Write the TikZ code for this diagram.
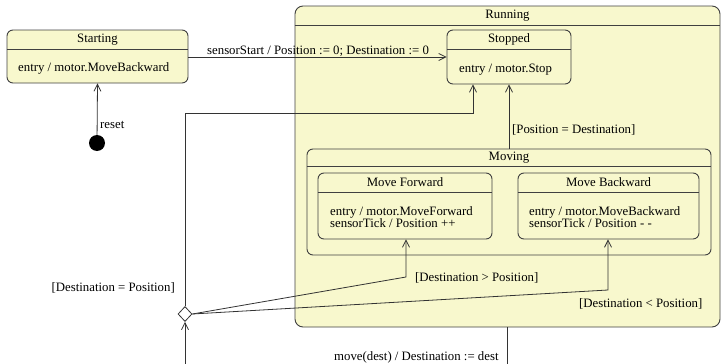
\documentclass[tikz,border=0pt]{standalone}
\usepackage{fontspec}
\setmainfont{Liberation Serif}
\usepackage{xcolor}
\usepackage{tikz}
\usetikzlibrary{arrows.meta,positioning,shapes.geometric,calc}
\definecolor{ufill}{RGB}{248,248,205}
\newcommand{\utext}{\fontsize{12.8}{12}\selectfont}
\tikzset{
  ustate/.style={draw=black!75, line width=0.9pt, rounded corners=6pt, fill=ufill, inner sep=0pt},
  uhead/.style={draw=black!75, line width=0.9pt},
  utitle/.style={font=\utext, inner sep=0pt},
  ubody/.style={font=\utext, align=left, anchor=west, inner sep=0pt},
  ulbl/.style={font=\utext, inner sep=0pt},
  utrans/.style={draw=black!80, line width=0.8pt, -{Straight Barb[length=7pt,width=7pt]}},
  uinit/.style={circle, fill=black, minimum size=16pt, inner sep=0pt},
  uchoice/.style={diamond, draw=black!80, line width=0.8pt, fill=white, minimum width=14pt, minimum height=15pt, inner sep=0pt}
}
\begin{document}
\begin{tikzpicture}[x=1pt,y=-1pt]
\useasboundingbox (0,0) rectangle (721,364);
% composite state
\node[ustate, rounded corners=8pt, minimum width=425pt, minimum height=321pt] (running) at (507.5,166.5) {};
\draw[uhead] (running.west |- 0,25) -- (running.east |- 0,25);
\node[utitle] (runningT) at (507.5,15.5) {Running};
% simple states
\node[ustate, minimum width=181pt, minimum height=53pt] (starting) at (97.5,56.5) {};
\draw[uhead] (starting.west |- 0,49) -- (starting.east |- 0,49);
\node[utitle] (startingT) at (97.5,39.5) {Starting};
\node[ubody] (startingB) at (18,68.5) {entry / motor.MoveBackward};
\node[ustate, minimum width=124pt, minimum height=54pt] (stopped) at (509,57) {};
\draw[uhead] (stopped.west |- 0,49) -- (stopped.east |- 0,49);
\node[utitle] (stoppedT) at (509,39.5) {Stopped};
\node[ubody] (stoppedB) at (459,69.5) {entry / motor.Stop};
\node[ustate, minimum width=404pt, minimum height=106pt] (moving) at (509,202) {};
\draw[uhead] (moving.west |- 0,166) -- (moving.east |- 0,166);
\node[utitle] (movingT) at (509,157.5) {Moving};
\node[ustate, minimum width=174pt, minimum height=66pt] (fwd) at (405,206) {};
\draw[uhead] (fwd.west |- 0,192) -- (fwd.east |- 0,192);
\node[utitle] (fwdT) at (405,182.5) {Move Forward};
\node[ubody] (fwdB) at (330,217) {entry / motor.MoveForward\\sensorTick / Position ++};
\node[ustate, minimum width=181pt, minimum height=66pt] (bwd) at (608.5,206) {};
\draw[uhead] (bwd.west |- 0,192) -- (bwd.east |- 0,192);
\node[utitle] (bwdT) at (608.5,182.5) {Move Backward};
\node[ubody] (bwdB) at (529,217) {entry / motor.MoveBackward\\sensorTick / Position - -};
% pseudo states
\node[uinit] (init) at (97,143) {};
\node[uchoice] (dec) at (185,314) {};
\coordinate (c1) at (473,113);
\coordinate (c2) at (406,277);
\coordinate (c3) at (608,290);
% transitions
\draw[utrans] (init) -- (starting.south);
\draw[utrans] (starting.east |- stopped.west) -- (stopped.west);
\draw[utrans] (moving.north) -- (stopped.south);
\draw[utrans] (dec.north) |- (c1) -- (c1 |- stopped.south);
\draw[utrans] (dec.east) -- (c2) -- (c2 |- fwd.south);
\draw[utrans] (dec.east) -- (c3) -- (c3 |- bwd.south);
\draw[utrans] (running.south) -- ++(0,60) -| (dec.south);
% labels
\node[ulbl, anchor=west] (lreset) at (100,125) {reset};
\node[ulbl, anchor=west] (lstart) at (207,51) {sensorStart / Position := 0; Destination := 0};
\node[ulbl, anchor=west] (lstop) at (512,130) {[Position = Destination]};
\node[ulbl, anchor=east] (leq) at (175,288) {[Destination = Position]};
\node[ulbl, anchor=west] (lgt) at (415,277.5) {[Destination > Position]};
\node[ulbl, anchor=west] (llt) at (579,304) {[Destination < Position]};
\node[ulbl, anchor=west] (lmove) at (334,357) {move(dest) / Destination := dest};
\end{tikzpicture}
\end{document}
